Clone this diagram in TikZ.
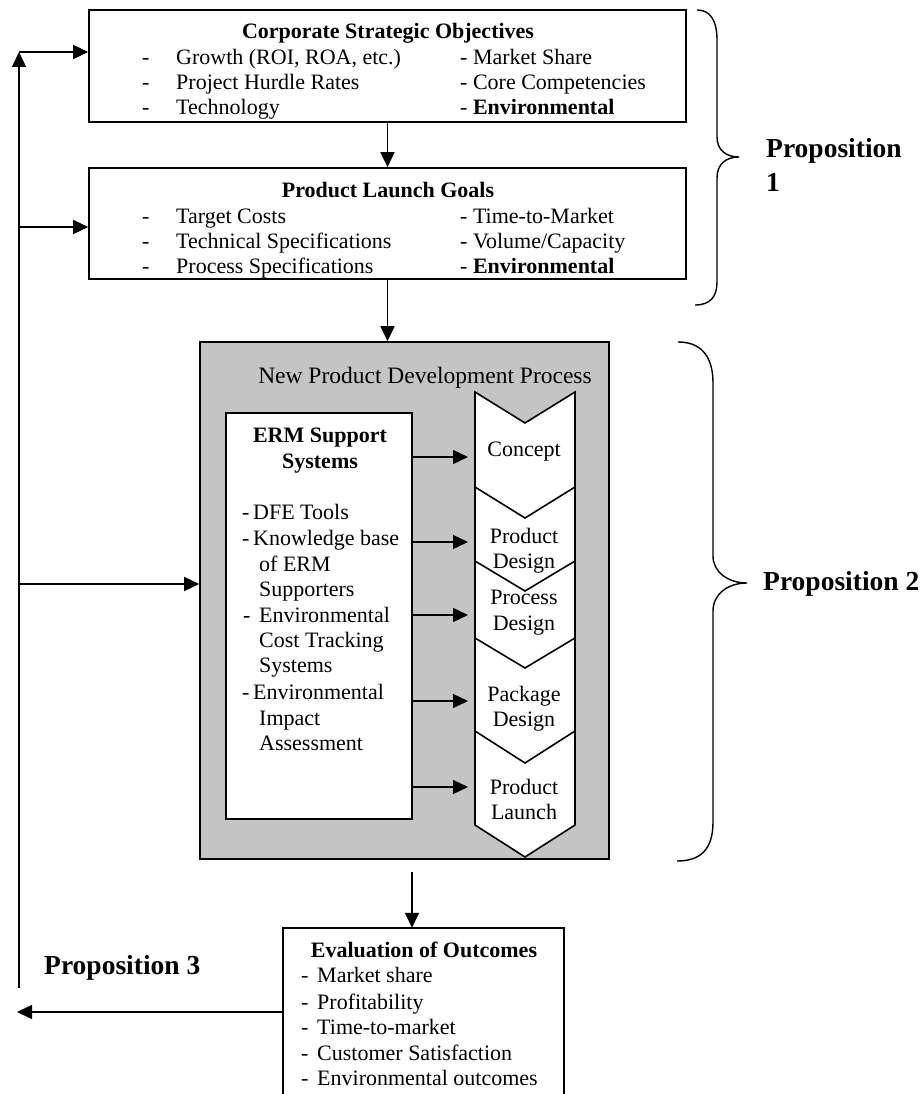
\documentclass[tikz,border=0pt]{standalone}
\usepackage{fontspec}
\setmainfont{Liberation Serif}
\usetikzlibrary{arrows.meta}
\newcommand\myfs{\fontsize{22}{25.5}\selectfont}
\newcommand\mybig{\fontsize{27.5}{30}\selectfont}
\newcommand\dsh{\makebox[34pt][l]{-}}
\begin{document}
\begin{tikzpicture}[x=1pt,y=-1pt,
  box/.style={draw, line width=1.6pt, rectangle, inner sep=0pt, fill=white},
  txt/.style={inner sep=0pt, anchor=base west, font=\myfs},
  ctr/.style={inner sep=0pt, anchor=base, font=\myfs},
  ttl/.style={inner sep=0pt, anchor=base, font=\myfs\bfseries},
  prop/.style={inner sep=0pt, anchor=base west, font=\mybig\bfseries},
  arr/.style={line width=1.5pt, -{Triangle[length=15pt,width=14pt]}},
  arrs/.style={line width=1.3pt, -{Triangle[length=15pt,width=14pt]}},
  brace/.style={line width=1.4pt},
  edge/.style={line width=1.6pt}]
\useasboundingbox (0,0) rectangle (922,1094);

% ---- Corporate Strategic Objectives
\node[box, minimum width=597pt, minimum height=112pt] (obj) at (387.5,66) {};
\node[ttl] (objT) at (388,39) {Corporate Strategic Objectives};
\node[txt] (o1) at (142,65) {\dsh Growth (ROI, ROA, etc.)};
\node[txt] (o2) at (142,90) {\dsh Project Hurdle Rates};
\node[txt] (o3) at (142,115) {\dsh Technology};
\node[txt] (o4) at (460,65) {- Market Share};
\node[txt] (o5) at (460,90) {- Core Competencies};
\node[txt] (o6) at (460,115) {- \textbf{Environmental}};

% ---- Product Launch Goals
\node[box, minimum width=597pt, minimum height=111pt] (goal) at (387.5,223.5) {};
\node[ttl] (goalT) at (388,197) {Product Launch Goals};
\node[txt] (g1) at (142,223) {\dsh Target Costs};
\node[txt] (g2) at (142,248) {\dsh Technical Specifications};
\node[txt] (g3) at (142,273) {\dsh Process Specifications};
\node[txt] (g4) at (460,223) {- Time-to-Market};
\node[txt] (g5) at (460,248) {- Volume/Capacity};
\node[txt] (g6) at (460,273) {- \textbf{Environmental}};

% ---- New Product Development Process
\node[box, fill=black!23, minimum width=409pt, minimum height=517pt] (npd) at (404.5,600.5) {};
\node[inner sep=0pt, anchor=base, font=\fontsize{23.5}{26}\selectfont] (npdT) at (425,383) {New Product Development Process};

% ERM box
\node[box, minimum width=186pt, minimum height=406pt] (erm) at (319,616) {};
\node[ttl] (ermT1) at (320,442) {ERM Support};
\node[ttl] (ermT2) at (320,468) {Systems};
\node[txt] (l1) at (242,519) {\makebox[11pt][l]{-}DFE Tools};
\node[txt] (l2) at (242,545) {\makebox[11pt][l]{-}Knowledge base};
\node[txt] (l3) at (259,571) {of ERM};
\node[txt] (l4) at (259,596) {Supporters};
\node[txt] (l5) at (243,622) {\makebox[16pt][l]{-}Environmental};
\node[txt] (l6) at (259,647) {Cost Tracking};
\node[txt] (l7) at (259,672) {Systems};
\node[txt] (l8) at (242,699) {\makebox[11pt][l]{-}Environmental};
\node[txt] (l9) at (259,725) {Impact};
\node[txt] (l10) at (259,750) {Assessment};

% chevrons
\draw[edge, fill=white] (475,392) -- (525,423) -- (575,392) -- (575,825) -- (525,857) -- (475,825) -- cycle;
\draw[edge] (475,487) -- (525,518) -- (575,487);
\draw[edge] (475,561) -- (525,591) -- (575,561);
\draw[edge] (475,638) -- (525,668) -- (575,638);
\draw[edge] (475,731) -- (525,763) -- (575,731);
\node[ctr] (c1) at (524,456) {Concept};
\node[ctr] (c2a) at (524,543) {Product};
\node[ctr] (c2b) at (524,568) {Design};
\node[ctr] (c3a) at (524,604) {Process};
\node[ctr] (c3b) at (524,630) {Design};
\node[ctr] (c4a) at (524,701) {Package};
\node[ctr] (c4b) at (524,726) {Design};
\node[ctr] (c5a) at (524,794) {Product};
\node[ctr] (c5b) at (524,819) {Launch};

\coordinate (a1) at (468,457);
\coordinate (a2) at (468,542);
\coordinate (a3) at (468,615);
\coordinate (a4) at (468,701);
\coordinate (a5) at (468,787);
\foreach \k in {1,...,5} { \draw[arrs] (erm.east |- a\k) -- (a\k); }

% ---- Evaluation of Outcomes
\node[minimum width=281pt, minimum height=172pt, inner sep=0pt] (eval) at (423.5,1014) {};
\draw[edge] (eval.south west) -- (eval.north west) -- (eval.north east) -- (eval.south east);
\node[ttl] (evT) at (424,957) {Evaluation of Outcomes};
\node[txt] (e1) at (301,982) {\makebox[16pt][l]{-}Market share};
\node[txt] (e2) at (301,1009) {\makebox[16pt][l]{-}Profitability};
\node[txt] (e3) at (301,1034) {\makebox[16pt][l]{-}Time-to-market};
\node[txt] (e4) at (301,1060) {\makebox[16pt][l]{-}Customer Satisfaction};
\node[txt] (e5) at (301,1085) {\makebox[16pt][l]{-}Environmental outcomes};

% ---- vertical flow arrows
\draw[arr] (obj.south) -- (goal.north);
\draw[arr] (goal.south) -- (goal.south |- npd.north);
\coordinate (e0) at (412,872);
\draw[arr] (e0) -- (e0 |- eval.north);

% ---- feedback loop
\coordinate (fb0) at (19,988);
\coordinate (fb1) at (19,52);
\coordinate (fb2) at (19,227);
\coordinate (fb3) at (19,584);
\coordinate (out) at (17,1012);
\draw[arr] (fb0) -- (fb1);
\draw[arr] (fb1) -- (obj.west |- fb1);
\draw[arr] (fb2) -- (goal.west |- fb2);
\draw[arr] (fb3) -- (npd.west |- fb3);
\draw[arr] (eval.west |- out) -- (out);

% ---- braces
\draw[brace] (697,10) .. controls (710,10) and (717,20) .. (717,40) -- (717,137)
  .. controls (717,150) and (726,157) .. (739,157)
  .. controls (726,157) and (717,164) .. (717,178) -- (717,282)
  .. controls (717,297) and (710,305) .. (695,305);
\draw[brace] (678,342) .. controls (700,342) and (713,355) .. (713,383) -- (713,556)
  .. controls (713,572) and (728,583) .. (747,583)
  .. controls (728,583) and (713,594) .. (713,611) -- (713,822)
  .. controls (713,850) and (700,861) .. (677,861);

% ---- propositions
\node[prop] (p1a) at (766,158) {Proposition};
\node[prop] (p1b) at (766,192) {1};
\node[prop] (p2) at (763,590) {Proposition 2};
\node[prop] (p3) at (44,974) {Proposition 3};
\end{tikzpicture}
\end{document}
